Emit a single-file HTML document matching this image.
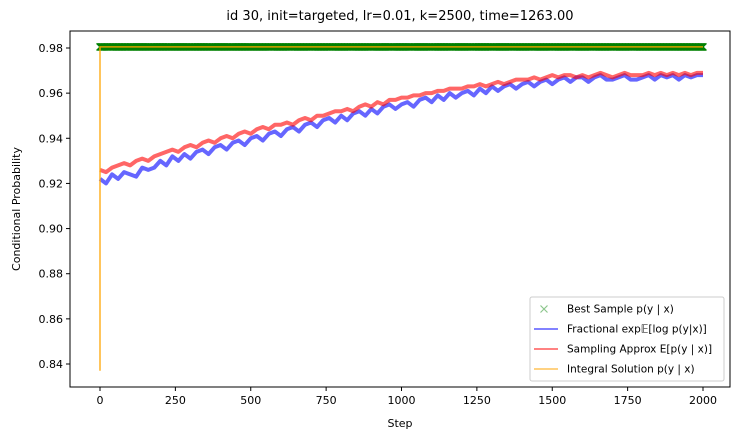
<!DOCTYPE html>
<html><head><meta charset="utf-8"><style>
body{margin:0;background:#fff;}
svg{font-family:"DejaVu Sans","Liberation Sans",sans-serif;}
</style></head><body>
<svg width="740" height="440" viewBox="0 0 740 440">
<g id="plot"></g>
</svg>
<script>
const xTicks=[0,250,500,750,1000,1250,1500,1750,2000];
const yTicks=[0.84,0.86,0.88,0.90,0.92,0.94,0.96,0.98];
const stepInterval=20;
const fractionalValues=[0.922,0.920,0.924,0.922,0.925,0.924,0.923,0.927,0.926,0.927,
0.930,0.928,0.932,0.930,0.933,0.931,0.934,0.935,0.933,0.936,
0.937,0.935,0.938,0.939,0.937,0.940,0.941,0.939,0.942,0.943,
0.941,0.944,0.945,0.943,0.946,0.947,0.945,0.948,0.949,0.947,
0.950,0.948,0.951,0.952,0.950,0.953,0.951,0.954,0.955,0.953,
0.955,0.956,0.954,0.957,0.958,0.956,0.959,0.957,0.960,0.958,
0.960,0.961,0.959,0.962,0.960,0.963,0.961,0.963,0.964,0.962,
0.964,0.965,0.963,0.965,0.966,0.964,0.966,0.967,0.965,0.967,
0.967,0.965,0.967,0.968,0.966,0.966,0.967,0.968,0.966,0.966,
0.967,0.968,0.966,0.968,0.967,0.968,0.966,0.968,0.967,0.968,0.968];
const samplingValues=[0.926,0.925,0.927,0.928,0.929,0.928,0.930,0.931,0.930,0.932,
0.933,0.934,0.935,0.934,0.936,0.937,0.936,0.938,0.939,0.938,
0.940,0.941,0.940,0.942,0.943,0.942,0.944,0.945,0.944,0.946,
0.946,0.947,0.946,0.948,0.949,0.948,0.950,0.950,0.951,0.952,
0.952,0.953,0.952,0.954,0.955,0.954,0.956,0.955,0.957,0.957,
0.958,0.958,0.959,0.959,0.960,0.960,0.961,0.961,0.962,0.962,
0.962,0.963,0.963,0.964,0.963,0.964,0.965,0.964,0.965,0.966,
0.966,0.966,0.967,0.966,0.967,0.968,0.967,0.968,0.968,0.967,
0.968,0.967,0.968,0.969,0.968,0.967,0.968,0.969,0.968,0.968,
0.968,0.969,0.968,0.969,0.968,0.969,0.968,0.969,0.968,0.969,0.969];
const integralSteps=[0,0,0,2000];
const integralValues=[0.837,0.925,0.9805,0.9805];
const bestSampleValue=0.9805;
const bestSampleMaxStep=2000;

const NS="http://www.w3.org/2000/svg";
const g=document.getElementById('plot');
const L=70,R=730,T=31,B=387;
const X=s=>100+(s/2000)*603;
const Y=v=>364-(v-0.84)/0.14*316;
function mk(tag,attrs,parent){const e=document.createElementNS(NS,tag);for(const k in attrs)e.setAttribute(k,attrs[k]);(parent||g).appendChild(e);return e;}
function txt(str,attrs){const e=mk('text',attrs);e.textContent=str;return e;}

const bs=mk('g',{});


let d='';
for(let s=0;s<=bestSampleMaxStep;s+=2){
  const x=X(s),y=Y(bestSampleValue);
  d+=`M${(x-3.5).toFixed(1)} ${(y-3.5).toFixed(1)}L${(x+3.5).toFixed(1)} ${(y+3.5).toFixed(1)}M${(x-3.5).toFixed(1)} ${(y+3.5).toFixed(1)}L${(x+3.5).toFixed(1)} ${(y-3.5).toFixed(1)}`;
}
mk('path',{d:d,stroke:'#008000','stroke-width':1.3,fill:'none'},bs);
function series(vals,color,name,w){
  const pts=vals.map((v,i)=>X(i*stepInterval).toFixed(2)+','+Y(v).toFixed(2)).join(' ');
  const p=mk('polyline',{points:pts,fill:'none',stroke:color,'stroke-width':w,'stroke-opacity':0.6,'stroke-linejoin':'round'});
  
  
}
series(fractionalValues,'#0000ff','fractional-series',4);
series(samplingValues,'#ff0000','sampling-series',4);
const ip=mk('polyline',{points:integralSteps.map((s,i)=>X(s)+','+Y(integralValues[i])).join(' '),fill:'none',stroke:'#ffa500','stroke-width':1.5,'stroke-opacity':0.85});



const fr=mk('rect',{x:L,y:T,width:R-L,height:B-T,fill:'none',stroke:'#000','stroke-width':1});


xTicks.forEach(t=>{
  mk('line',{x1:X(t),x2:X(t),y1:B,y2:B+4,stroke:'#000'});
  const e=txt(String(t),{x:X(t),y:B+17,'font-size':11,'text-anchor':'middle'});
  
  
});
yTicks.forEach(t=>{
  mk('line',{x1:L-4,x2:L,y1:Y(t),y2:Y(t),stroke:'#000'});
  const e=txt(t.toFixed(2),{x:L-7,y:Y(t)+4,'font-size':11,'text-anchor':'end'});
  
  
});
let e=txt('id 30, init=targeted, lr=0.01, k=2500, time=1263.00',{x:400,y:20,'font-size':13,'text-anchor':'middle'});


e=txt('Step',{x:400,y:427,'font-size':11,'text-anchor':'middle'});


e=txt('Conditional Probability',{x:0,y:0,'font-size':11,'text-anchor':'middle',transform:'translate(20,209) rotate(-90)'});



const lg=mk('g',{});


mk('rect',{x:530,y:297,width:194,height:84,rx:2,fill:'#fff','fill-opacity':0.8,stroke:'#ccc'},lg);
const items=[['x','#008000','Best Sample p(y | x)'],['l','#0000ff','Fractional exp\u{1D53C}[log p(y|x)]'],['l','#ff0000','Sampling Approx E[p(y | x)]'],['l','#ffa500','Integral Solution p(y | x)']];
items.forEach((it,i)=>{
  const y=309+i*20;
  if(it[0]==='x'){mk('path',{d:`M${544-3.5} ${y-3.5}L${544+3.5} ${y+3.5}M${544-3.5} ${y+3.5}L${544+3.5} ${y-3.5}`,stroke:it[1],'stroke-opacity':0.45,'stroke-width':1.2},lg);}
  else{mk('line',{x1:534,x2:558,y1:y,y2:y,stroke:it[1],'stroke-opacity':0.65,'stroke-width':1.6},lg);}
  const t=mk('text',{x:567,y:y+3.5,'font-size':10.5},lg);t.textContent=it[2];
  
  
});
</script>
</body></html>
